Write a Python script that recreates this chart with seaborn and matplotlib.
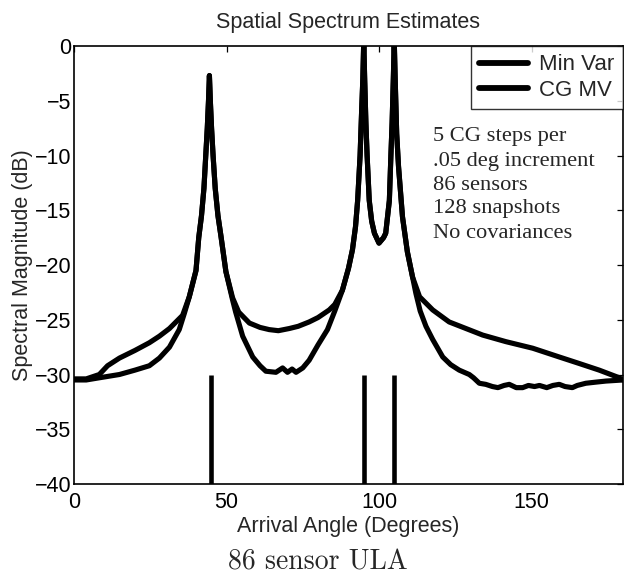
import matplotlib
matplotlib.use("Agg")
import matplotlib.pyplot as plt
import seaborn as sns
import pandas as pd

# ---------------- data ----------------
mv_angles = [0, 4, 8.3, 14.9, 20, 24.7, 28, 31.3, 34.5, 36.2, 37.8, 40.0, 40.9, 41.8,
             42.6, 43.2, 43.7, 44.1, 44.4, 44.7, 45.1, 45.6, 46.3, 47.2, 48.2, 49.8,
             52.0, 53.0, 55.3, 58.6, 61.0, 62.9, 66.2, 68.4, 70.0, 71.5, 72.8, 75.0,
             77.1, 80.0, 83.1, 85.5, 88.0, 90.0, 91.3, 92.3, 93.0, 93.8, 94.3, 94.7,
             95.0, 95.3, 95.7, 96.1, 96.8, 97.6, 98.5, 100.0, 101.5, 102.2, 103.4,
             103.9, 104.3, 104.7, 105.0, 105.3, 105.8, 106.4, 107.7, 109.3, 111.0,
             112.1, 113.5, 115.4, 117.6, 120.9, 123.5, 126.3, 129.6, 131.0, 132.9,
             135.0, 137.2, 139.0, 141.0, 142.7, 145.0, 147.1, 149.0, 151.0, 152.6,
             155.0, 157.0, 159.1, 161.0, 163.4, 165.0, 167.8, 171.0, 174.4, 180.0]
mv_db = [-30.5, -30.5, -30.3, -30.0, -29.6, -29.2, -28.5, -27.5, -25.9, -24.4, -22.9,
         -20.5, -17.5, -15.5, -13.0, -10.0, -7.5, -5.0, -2.7, -5.0, -7.5, -10.0,
         -13.0, -15.5, -17.4, -20.6, -23.2, -24.3, -26.5, -28.4, -29.2, -29.7, -29.8,
         -29.4, -29.8, -29.5, -29.8, -29.4, -28.7, -27.3, -25.9, -24.2, -22.3, -20.3,
         -18.6, -16.5, -14.1, -10.0, -6.0, -3.0, 0.5, -3.0, -7.0, -10.0, -14.1,
         -16.0, -17.1, -18.0, -17.5, -17.1, -14.1, -10.0, -7.0, -3.0, 0.5, -3.0,
         -8.0, -11.0, -15.6, -18.8, -21.1, -22.6, -24.2, -25.6, -26.8, -28.4, -29.1,
         -29.6, -30.0, -30.3, -30.8, -30.9, -31.1, -31.2, -31.0, -30.9, -31.2, -31.2,
         -31.0, -31.1, -31.0, -31.2, -31.0, -30.9, -31.1, -31.2, -31.0, -30.8, -30.7,
         -30.6, -30.5]

cg_angles = [0, 4, 8.3, 11, 14.9, 20, 24.7, 28, 31.3, 35.6, 37.8, 40.0, 40.9, 41.8,
             42.6, 43.2, 43.7, 44.1, 44.4, 44.7, 45.1, 45.6, 46.3, 47.2, 48.2, 49.8,
             52.0, 54.0, 57.5, 61.0, 64.0, 67.0, 70.6, 73.5, 77.1, 80.0, 83.7, 85.5,
             88.0, 90.0, 91.3, 92.3, 93.0, 93.8, 94.3, 94.7, 95.0, 95.3, 95.7, 96.1,
             96.8, 97.6, 98.5, 100.0, 101.5, 102.2, 103.4, 103.9, 104.3, 104.7, 105.0,
             105.3, 105.8, 106.4, 107.7, 109.3, 111.0, 113.3, 117.6, 123.0, 128.5,
             134.0, 141.6, 150.4, 159.1, 165.7, 172.2, 178.8, 180.0]
cg_db = [-30.4, -30.4, -30.0, -29.2, -28.5, -27.8, -27.1, -26.5, -25.8, -24.6, -22.9,
         -20.5, -17.5, -15.5, -13.0, -10.0, -7.5, -5.0, -2.7, -5.0, -7.5, -10.0,
         -13.0, -15.5, -17.4, -20.6, -23.0, -24.3, -25.3, -25.7, -25.9, -26.0, -25.8,
         -25.6, -25.2, -24.8, -24.1, -23.6, -22.3, -20.3, -18.6, -16.5, -14.1, -10.0,
         -6.0, -3.0, 0.5, -3.0, -7.0, -10.0, -14.1, -16.0, -17.1, -18.0, -17.5,
         -17.1, -14.1, -10.0, -7.0, -3.0, 0.5, -3.0, -8.0, -11.0, -15.6, -18.8,
         -21.1, -22.9, -24.1, -25.2, -25.8, -26.4, -27.0, -27.6, -28.4, -29.0,
         -29.6, -30.3, -30.5]

source_angles = [45, 95, 105]
source_range = [-40, -30]

series_labels = ["Min Var", "CG MV"]
x_ticks = [0, 50, 100, 150]
y_ticks = [0, -5, -10, -15, -20, -25, -30, -35, -40]
notes = ["5 CG steps per", ".05 deg increment", "86 sensors",
         "128 snapshots", "No covariances"]

# ---------------- figure ----------------
sns.set_style("white")
plt.rcParams["font.family"] = ["Liberation Sans", "DejaVu Sans"]

fig = plt.figure(figsize=(6.24, 5.80), dpi=100)
ax = fig.add_axes([74 / 624, 1 - 484 / 580, (623 - 74) / 624, (484 - 46) / 580])

df_mv = pd.DataFrame({"angle": mv_angles, "db": mv_db})
df_cg = pd.DataFrame({"angle": cg_angles, "db": cg_db})
lw = 3.7
sns.lineplot(data=df_mv, x="angle", y="db", ax=ax, color="black", linewidth=lw,
             label=series_labels[0], solid_capstyle="round", solid_joinstyle="round")
sns.lineplot(data=df_cg, x="angle", y="db", ax=ax, color="black", linewidth=lw,
             label=series_labels[1], solid_capstyle="round", solid_joinstyle="round")

ax.vlines(source_angles, source_range[0], source_range[1], colors="black",
          linewidth=3.3)

ax.set_xlim(0, 180)
ax.set_ylim(-40, 0)
ax.set_xticks(x_ticks)
ax.set_yticks(y_ticks)
ax.set_xticklabels([str(t) for t in x_ticks])
ax.set_yticklabels([str(t).replace("-", "\u2212") for t in y_ticks])

ax.tick_params(direction="in", length=4.5, width=0.9, top=True, right=True,
               labelsize=15.5, colors="black")
ax.tick_params(axis="x", pad=6)
ax.tick_params(axis="y", pad=2)
for s in ax.spines.values():
    s.set_visible(True)
    s.set_color("black")
    s.set_linewidth(1.2)

ax.set_title("Spatial Spectrum Estimates", fontsize=15.5, pad=13)
ax.set_xlabel("Arrival Angle (Degrees)", fontsize=15.5, labelpad=2)
ax.set_ylabel("Spectral Magnitude (dB)", fontsize=15.5, labelpad=1)

leg = ax.legend(loc="upper right", borderaxespad=0, fontsize=16, frameon=True,
                fancybox=False, handlelength=2.2, handletextpad=0.5,
                labelspacing=0.2, borderpad=0.38)
leg.get_frame().set_edgecolor("black")
leg.get_frame().set_linewidth(1.0)
for h in leg.get_lines():
    h.set_linewidth(4.2)

# serif annotation block (positions in figure pixels)
for i, t in enumerate(notes):
    fig.text(433 / 624, 1 - (137 + i * 24.0) / 580, t, fontsize=16.2,
             family=["Liberation Serif", "DejaVu Serif"], va="center", ha="left")

fig.text(318 / 624, 1 - 562 / 580, "86 sensor ULA", fontsize=20, family="cmr10",
         ha="center", va="center")

fig.savefig("out.png", dpi=100, facecolor="white")
